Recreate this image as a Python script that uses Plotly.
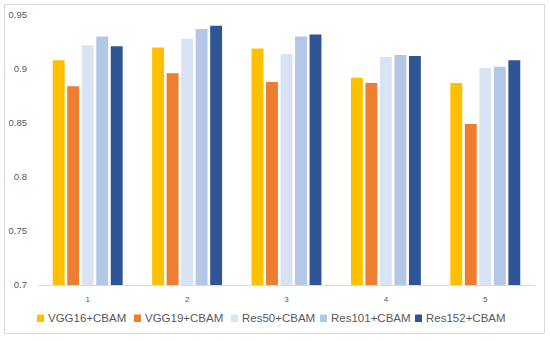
import plotly.graph_objects as go

categories = ["1", "2", "3", "4", "5"]
series_names = ["VGG16+CBAM", "VGG19+CBAM", "Res50+CBAM", "Res101+CBAM", "Res152+CBAM"]
vgg16 = [0.908, 0.920, 0.919, 0.892, 0.887]
vgg19 = [0.884, 0.896, 0.888, 0.887, 0.849]
res50 = [0.922, 0.928, 0.914, 0.911, 0.901]
res101 = [0.930, 0.937, 0.930, 0.913, 0.902]
res152 = [0.921, 0.940, 0.932, 0.912, 0.908]
y_ticks = [0.7, 0.75, 0.8, 0.85, 0.9, 0.95]
y_ticklabels = ["0.7", "0.75", "0.8", "0.85", "0.9", "0.95"]

colors = ["#FFC000", "#ED7D31", "#DAE3F3", "#B4C7E7", "#2F5597"]
all_series = [vgg16, vgg19, res50, res101, res152]

W, H = 550, 341
ML, MR, MT, MB = 38, 15, 15, 56
PW, PH = W - ML - MR, H - MT - MB

def px2x(px):
    return (px - ML) / PW

def px2y(py):
    return (H - MB - py) / PH

fig = go.Figure()
for name, vals, col in zip(series_names, all_series, colors):
    fig.add_trace(go.Bar(x=categories, y=vals, name=name,
                         marker=dict(color=col, line=dict(width=0))))

shapes = [dict(type="rect", xref="paper", yref="paper",
               x0=px2x(4.5), x1=px2x(544.5), y0=px2y(333.5), y1=px2y(4.5),
               line=dict(color="#D9D9D9", width=1), fillcolor="rgba(0,0,0,0)", layer="below")]
annotations = []
legend_sq_x = [37, 134, 231, 320, 415]
for i, name in enumerate(series_names):
    shapes.append(dict(type="rect", xref="paper", yref="paper",
                       x0=px2x(legend_sq_x[i]), x1=px2x(legend_sq_x[i] + 7),
                       y0=px2y(322), y1=px2y(314.5),
                       line=dict(width=0), fillcolor=colors[i]))
    annotations.append(dict(xref="paper", yref="paper", x=px2x(legend_sq_x[i] + 9.5), y=px2y(318),
                            xanchor="left", yanchor="middle", showarrow=False, text=name,
                            borderpad=0,
                            font=dict(family="Liberation Sans", size=11.5, color="#595959")))

fig.update_layout(
    width=W, height=H,
    margin=dict(l=ML, r=MR, t=MT, b=MB, autoexpand=False),
    paper_bgcolor="white", plot_bgcolor="white",
    barmode="group", bargap=0.27, bargroupgap=0.18,
    showlegend=False,
    font=dict(family="Liberation Sans", color="#595959"),
    shapes=shapes, annotations=annotations,
    xaxis=dict(type="category", showgrid=False, showline=True, linecolor="#D9D9D9", linewidth=1,
               ticks="", tickfont=dict(size=8, color="#595959"), ticklabelstandoff=6,
               zeroline=False, automargin=False),
    yaxis=dict(range=[0.7, 0.95], tickvals=y_ticks, ticktext=y_ticklabels, showgrid=False,
               showline=False, zeroline=False, ticks="", automargin=False,
               tickfont=dict(size=9.5, color="#595959"), ticklabelstandoff=10),
)

fig.write_html("out.html", config={"displayModeBar": False},
               post_script="document.body.style.margin='0px';")
